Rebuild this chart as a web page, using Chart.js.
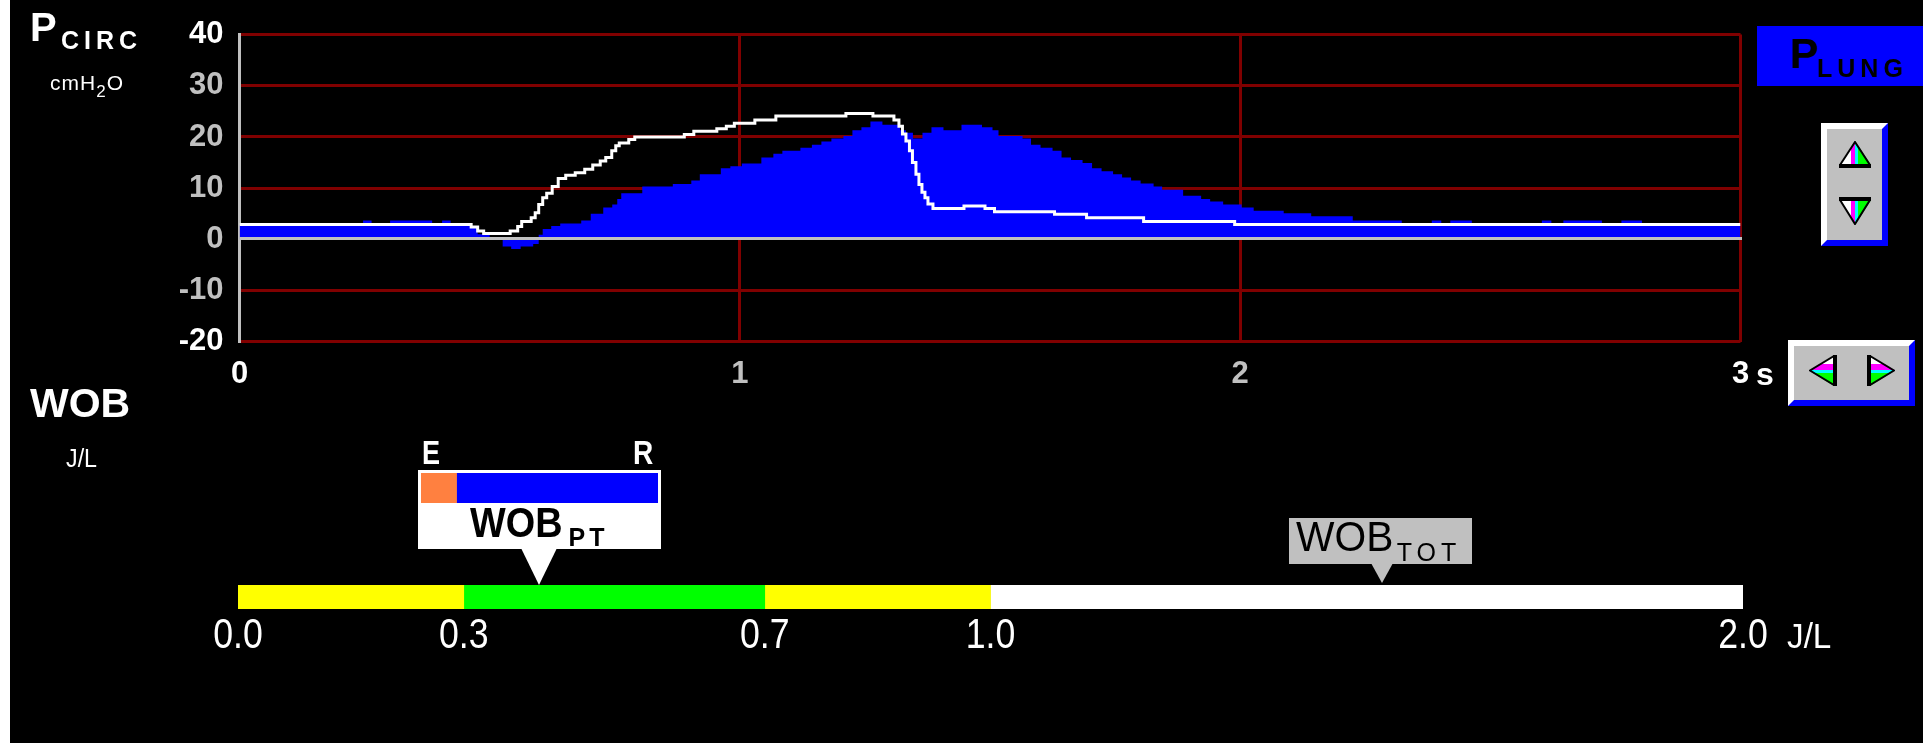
<!DOCTYPE html>
<html>
<head>
<meta charset="utf-8">
<title>P circ / P lung – WOB</title>
<script src="https://cdn.jsdelivr.net/npm/chart.js@4.4.1/dist/chart.umd.min.js"></script>
<style>
  html, body { margin: 0; padding: 0; background: #fff; width: 1923px; height: 743px; overflow: hidden; }
  #panel { position: absolute; left: 10px; top: 0; width: 1913px; height: 743px; background: #000; }
  canvas { position: absolute; }
  .t { position: absolute; white-space: nowrap; line-height: 1; font-family: "Liberation Sans", Arial, sans-serif; color: #fff; transform-origin: 0 0; }
  .b { font-weight: bold; }
  .btn { position: absolute; box-sizing: border-box; background: #c0c0c0;
         border-left: 6px solid #fff; border-top: 6px solid #fff;
         border-right: 6px solid #0000ff; border-bottom: 6px solid #0000ff; }
  .btn svg { position: absolute; }
  .box { position: absolute; box-sizing: border-box; }
  .tip { position: absolute; width: 0; height: 0; border-style: solid; border-color: transparent; }
</style>
</head>
<body>
<div id="panel"></div>
<canvas id="pressure" width="1923" height="743" style="left:0;top:0"></canvas>
<canvas id="gauge" width="1923" height="120" style="left:0;top:560px"></canvas>

<!-- pressure source selector -->
<div class="box" style="left:1757px;top:26px;width:166px;height:60px;background:#0000ff"></div>

<!-- scale buttons -->
<div class="btn" style="left:1821px;top:123px;width:67px;height:123px">
  <svg style="left:12px;top:12px" width="32" height="27" viewBox="0 0 32 27">
    <defs><clipPath id="cu"><polygon points="16,0 0,24 32,24"/></clipPath></defs>
    <g clip-path="url(#cu)">
      <rect x="0" y="0" width="12" height="24" fill="#fff"/>
      <rect x="12" y="0" width="4" height="24" fill="#ff00ff"/>
      <rect x="16" y="0" width="3" height="24" fill="#00ffff"/>
      <rect x="19" y="0" width="13" height="24" fill="#00ff00"/>
    </g>
    <polygon points="16,1 1,24 31,24" fill="none" stroke="#000" stroke-width="2"/>
    <rect x="0" y="23" width="32" height="4" fill="#000"/>
  </svg>
  <svg style="left:12px;top:68px" width="32" height="28" viewBox="0 0 32 28">
    <defs><clipPath id="cd"><polygon points="0,3 32,3 16,28"/></clipPath></defs>
    <g clip-path="url(#cd)">
      <rect x="0" y="0" width="12" height="28" fill="#fff"/>
      <rect x="12" y="0" width="4" height="28" fill="#ff00ff"/>
      <rect x="16" y="0" width="3" height="28" fill="#00ffff"/>
      <rect x="19" y="0" width="13" height="28" fill="#00ff00"/>
    </g>
    <polygon points="1,3 31,3 16,27" fill="none" stroke="#000" stroke-width="2"/>
    <rect x="0" y="0" width="32" height="4" fill="#000"/>
  </svg>
</div>
<div class="btn" style="left:1788px;top:340px;width:127px;height:66px">
  <svg style="left:15px;top:9px" width="28" height="31" viewBox="0 0 28 31">
    <defs><clipPath id="cl"><polygon points="25,0 25,31 0,15.5"/></clipPath></defs>
    <g clip-path="url(#cl)">
      <rect x="0" y="0" width="28" height="9" fill="#fff"/>
      <rect x="0" y="9" width="28" height="6" fill="#ff00ff"/>
      <rect x="0" y="15" width="28" height="3" fill="#00ffff"/>
      <rect x="0" y="18" width="28" height="13" fill="#00ff00"/>
    </g>
    <polygon points="25,1 25,30 1,15.5" fill="none" stroke="#000" stroke-width="2"/>
    <rect x="24" y="0" width="4" height="31" fill="#000"/>
  </svg>
  <svg style="left:73px;top:9px" width="28" height="31" viewBox="0 0 28 31">
    <defs><clipPath id="cr"><polygon points="3,0 3,31 28,15.5"/></clipPath></defs>
    <g clip-path="url(#cr)">
      <rect x="0" y="0" width="28" height="9" fill="#fff"/>
      <rect x="0" y="9" width="28" height="6" fill="#ff00ff"/>
      <rect x="0" y="15" width="28" height="3" fill="#00ffff"/>
      <rect x="0" y="18" width="28" height="13" fill="#00ff00"/>
    </g>
    <polygon points="3,1 3,30 27,15.5" fill="none" stroke="#000" stroke-width="2"/>
    <rect x="0" y="0" width="4" height="31" fill="#000"/>
  </svg>
</div>

<script>
// ---- pressure trace data (time in s, pressure in cmH2O) ----
const timeTicks = [0, 1, 2, 3];
const pressureTicks = [-20, -10, 0, 10, 20, 30, 40];

// lung pressure, step starts
const lungTime = [0, 0.247, 0.264, 0.301, 0.385, 0.405, 0.422, 0.463, 0.476, 0.500,
  0.526, 0.543, 0.562, 0.587, 0.598, 0.606, 0.623, 0.641, 0.683, 0.702,
  0.727, 0.745, 0.755, 0.763, 0.805, 0.866, 0.903, 0.920, 0.962, 0.981,
  1.004, 1.043, 1.067, 1.085, 1.121, 1.144, 1.163, 1.183, 1.207, 1.225,
  1.243, 1.261, 1.285, 1.320, 1.332, 1.346, 1.365, 1.383, 1.407, 1.443,
  1.484, 1.505, 1.517, 1.565, 1.582, 1.601, 1.625, 1.643, 1.662, 1.685,
  1.704, 1.723, 1.746, 1.764, 1.782, 1.801, 1.827, 1.844, 1.886, 1.922,
  1.940, 1.966, 2.003, 2.027, 2.087, 2.142, 2.225, 2.323, 2.383, 2.402,
  2.420, 2.463, 2.603, 2.622, 2.646, 2.723, 2.762, 2.803, 3.0];
const lungPressure = [2.8, 3.7, 2.8, 3.7, 2.8, 3.7, 2.8, 2.2, 1.0, 0,
  -1.4, -1.9, -1.4, -0.9, 0.9, 2.0, 2.6, 3.1, 3.7, 5.0,
  6.2, 6.8, 7.9, 9.0, 10.3, 10.8, 11.5, 12.7, 13.9, 14.3,
  14.8, 16.0, 16.7, 17.3, 17.9, 18.5, 19.1, 19.7, 20.2, 21.3,
  21.9, 23.0, 22.4, 21.3, 20.8, 19.7, 20.8, 21.9, 21.3, 22.4,
  21.9, 21.3, 20.2, 19.7, 18.5, 17.9, 17.3, 16.0, 15.5, 14.9,
  13.9, 13.3, 12.7, 12.1, 11.5, 10.9, 10.3, 9.7, 8.5, 7.9,
  7.4, 6.8, 6.2, 5.6, 5.1, 4.5, 3.7, 2.8, 3.7, 2.8,
  3.7, 2.8, 3.7, 2.8, 3.7, 2.8, 3.7, 2.8, 2.8];

// circuit pressure, step starts
const circTime = [0, 0.463, 0.476, 0.488, 0.541, 0.556, 0.564, 0.583, 0.591, 0.598,
  0.606, 0.614, 0.625, 0.637, 0.652, 0.671, 0.690, 0.706, 0.721, 0.732,
  0.744, 0.752, 0.759, 0.778, 0.790, 0.889, 0.908, 0.954, 0.973, 0.989,
  1.030, 1.072, 1.212, 1.266, 1.308, 1.318, 1.325, 1.332, 1.339, 1.345,
  1.352, 1.358, 1.364, 1.370, 1.376, 1.386, 1.448, 1.490, 1.509, 1.629,
  1.693, 1.807, 1.989, 3.0];
const circPressure = [2.9, 2.4, 1.65, 1.15, 1.65, 2.5, 3.5, 4.2, 5.2, 6.8,
  8.1, 9.0, 10.3, 11.9, 12.5, 13.0, 13.7, 14.5, 15.3, 16.0,
  17.3, 18.3, 18.8, 19.5, 20.0, 20.5, 21.1, 21.6, 22.1, 22.7,
  23.3, 24.1, 24.6, 24.1, 23.3, 22.1, 20.6, 19.2, 17.3, 15.0,
  12.7, 10.7, 9.2, 8.1, 6.9, 6.0, 6.5, 6.0, 5.4, 4.9,
  4.2, 3.5, 2.9, 2.9];

// ---- work of breathing (J/L) ----
const wobZoneLimits = [0.0, 0.3, 0.7, 1.0, 2.0];
const wobTicks = [0.0, 0.3, 0.7, 1.0, 2.0];
const wobPatient = 0.40;
const wobTotal = 1.52;
const wobElastic = 0.06;
const wobResistive = 0.34;

// ---- styling ----
const W = 1923, H = 743;
const plotArea = { left: 239.5, right: 1740.5, top: 27.3, bottom: 341.7 };
const xAxisHeight = 60;
const gridRed = '#800000';
const axisGray = '#c0c0c0';
const zoneColors = ['#ffff00', '#00ff00', '#ffff00', '#ffffff'];
const sansFamily = '"Liberation Sans", Arial, sans-serif';
const sansBold = { family: sansFamily, size: 31, weight: 'bold' };

// gray zero line drawn over the lung-pressure fill
const zeroLine = {
  id: 'zeroLine',
  afterDatasetsDraw(chart) {
    const { ctx, chartArea } = chart;
    const y = Math.round(chart.scales.y.getPixelForValue(0)) - 0.5;
    ctx.save();
    ctx.strokeStyle = axisGray;
    ctx.lineWidth = 3;
    ctx.beginPath();
    ctx.moveTo(chartArea.left, y);
    ctx.lineTo(chartArea.right + 1.5, y);
    ctx.stroke();
    ctx.restore();
  }
};

const toPoints = (xs, ys) => xs.map((x, i) => ({ x, y: ys[i] }));

new Chart(document.getElementById('pressure'), {
  type: 'line',
  data: {
    datasets: [
      {
        label: 'P circ',
        data: toPoints(circTime, circPressure),
        borderColor: '#ffffff',
        borderWidth: 3,
        stepped: true,
        pointRadius: 0,
        fill: false,
        borderJoinStyle: 'miter',
        order: 0
      },
      {
        label: 'P lung',
        data: toPoints(lungTime, lungPressure),
        borderColor: 'rgba(0,0,0,0)',
        borderWidth: 0,
        backgroundColor: '#0000ff',
        fill: 'origin',
        stepped: true,
        pointRadius: 0,
        order: 1
      }
    ]
  },
  options: {
    responsive: false,
    animation: false,
    devicePixelRatio: 1,
    events: [],
    layout: { padding: { left: 0, top: plotArea.top, right: W - plotArea.right, bottom: H - plotArea.bottom - xAxisHeight } },
    plugins: { legend: { display: false }, tooltip: { enabled: false } },
    scales: {
      x: {
        type: 'linear', min: 0, max: 3,
        afterBuildTicks: s => { s.ticks = timeTicks.map(v => ({ value: v })); },
        afterFit: s => { s.height = xAxisHeight; },
        grid: { color: c => (c.tick && c.tick.value === 0 ? 'rgba(0,0,0,0)' : gridRed), lineWidth: 3, drawTicks: false },
        border: { display: false },
        ticks: {
          padding: 14, autoSkip: false, maxRotation: 0, font: sansBold,
          color: c => (c.tick.value === 0 || c.tick.value === 3 ? '#ffffff' : axisGray),
          callback: v => String(v)
        }
      },
      y: {
        type: 'linear', min: -20, max: 40,
        afterBuildTicks: s => { s.ticks = pressureTicks.map(v => ({ value: v })); },
        afterFit: s => { s.width = plotArea.left; },
        grid: { color: c => (c.tick && c.tick.value === 0 ? 'rgba(0,0,0,0)' : gridRed), lineWidth: 3, drawTicks: false },
        border: { display: true, color: axisGray, width: 3 },
        ticks: {
          padding: 16, font: sansBold,
          color: c => (c.tick.value === 40 || c.tick.value === -20 ? '#ffffff' : axisGray),
          callback: v => String(v)
        }
      }
    }
  },
  plugins: [zeroLine]
});

// ---- WOB gauge ----
const gaugeTop = 560;
const gaugeLabelBase = 648;

// condensed tick labels, placed at the gauge scale's tick pixels
const condensedTicks = {
  id: 'condensedTicks',
  afterDraw(chart) {
    const s = chart.scales.x;
    const ctx = chart.ctx;
    ctx.save();
    ctx.fillStyle = '#ffffff';
    ctx.font = '42px ' + sansFamily;
    ctx.textAlign = 'center';
    ctx.textBaseline = 'alphabetic';
    s.ticks.forEach((t, i) => {
      const label = Number(t.value).toFixed(1);
      ctx.save();
      ctx.translate(s.getPixelForTick(i), gaugeLabelBase - gaugeTop);
      ctx.scale(0.85, 1);
      ctx.fillText(label, 0, 0);
      ctx.restore();
    });
    ctx.restore();
  }
};

const gauge = new Chart(document.getElementById('gauge'), {
  type: 'bar',
  data: {
    labels: ['WOB'],
    datasets: zoneColors.map((c, i) => ({
      data: [[wobZoneLimits[i], wobZoneLimits[i + 1]]],
      backgroundColor: c,
      borderWidth: 0,
      barPercentage: 1,
      categoryPercentage: 1,
      grouped: false
    }))
  },
  options: {
    indexAxis: 'y',
    responsive: false,
    animation: false,
    devicePixelRatio: 1,
    events: [],
    layout: { padding: { left: 238, right: W - 1743, top: 585 - gaugeTop, bottom: 0 } },
    plugins: { legend: { display: false }, tooltip: { enabled: false } },
    scales: {
      x: {
        type: 'linear', min: 0, max: 2,
        afterBuildTicks: s => { s.ticks = wobTicks.map(v => ({ value: v })); },
        afterFit: s => { s.height = 120 - (609 - gaugeTop); },
        grid: { display: false, drawTicks: false },
        border: { display: false },
        ticks: { display: false, autoSkip: false, maxRotation: 0 }
      },
      y: { type: 'category', display: false }
    }
  },
  plugins: [condensedTicks]
});

// ---- text and markers ----
function text(str, x, base, size, opts = {}) {
  const d = document.createElement('div');
  d.className = 't' + (opts.bold ? ' b' : '');
  d.style.left = x + 'px';
  d.style.top = (base - 0.8465 * size) + 'px';
  d.style.fontSize = size + 'px';
  if (opts.color) d.style.color = opts.color;
  if (opts.spacing) d.style.letterSpacing = opts.spacing + 'px';
  if (opts.sx) d.style.transform = 'scaleX(' + opts.sx + ')';
  d.innerHTML = str;
  document.body.appendChild(d);
  return d;
}
function box(x, y, w, h, bg) {
  const d = document.createElement('div');
  d.className = 'box';
  Object.assign(d.style, { left: x + 'px', top: y + 'px', width: w + 'px', height: h + 'px', background: bg });
  document.body.appendChild(d);
  return d;
}
function tip(apex, top, half, height, color) {
  const d = document.createElement('div');
  d.className = 'tip';
  Object.assign(d.style, {
    left: (apex - half) + 'px', top: top + 'px',
    borderWidth: height + 'px ' + half + 'px 0 ' + half + 'px',
    borderTopColor: color
  });
  document.body.appendChild(d);
}

text('P', 30, 41, 40, { bold: true });
text('CIRC', 61, 49, 25, { bold: true, spacing: 5 });
text('cmH<span style="font-size:17px;vertical-align:-7px">2</span>O', 50, 90, 21, { spacing: 1 });
text('P', 1790, 68, 43, { bold: true, color: '#000' });
text('LUNG', 1817, 77, 25, { bold: true, spacing: 5, color: '#000' });
text('s', 1756, 385, 32, { bold: true });
text('WOB', 30, 418, 41, { bold: true });
text('J/L', 66, 467, 25, { sx: 0.93 });
text('J/L', 1787, 648, 35, { sx: 0.95 });

// patient WOB marker with elastic / resistive split
const ptX = gauge.scales.x.getPixelForValue(wobPatient);
const ptLeft = ptX - 121.5;
box(ptLeft, 470, 243, 79, '#ffffff');
tip(ptX, 548, 18, 37, '#ffffff');
text('E', ptLeft + 4, 464, 33, { bold: true, sx: 0.82 });
text('R', ptLeft + 215, 464, 33, { bold: true, sx: 0.85 });
text('WOB', ptLeft + 52, 537, 43, { bold: true, sx: 0.88, color: '#000' });
text('PT', ptLeft + 151, 546, 25, { bold: true, spacing: 4, color: '#000' });

const split = document.createElement('canvas');
split.width = 237; split.height = 30;
split.style.left = (ptLeft + 3) + 'px';
split.style.top = '473px';
document.body.appendChild(split);
new Chart(split, {
  type: 'bar',
  data: {
    labels: [''],
    datasets: [
      { label: 'E', data: [wobElastic], backgroundColor: '#ff8040', borderWidth: 0, barPercentage: 1, categoryPercentage: 1 },
      { label: 'R', data: [wobResistive], backgroundColor: '#0000ff', borderWidth: 0, barPercentage: 1, categoryPercentage: 1 }
    ]
  },
  options: {
    indexAxis: 'y',
    responsive: false,
    animation: false,
    devicePixelRatio: 1,
    events: [],
    layout: { padding: 0 },
    plugins: { legend: { display: false }, tooltip: { enabled: false } },
    scales: {
      x: { stacked: true, min: 0, max: wobElastic + wobResistive, display: false },
      y: { stacked: true, display: false }
    }
  }
});

// total WOB marker
const totX = gauge.scales.x.getPixelForValue(wobTotal);
const totLeft = totX - 93;
box(totLeft, 518, 183, 46, '#c0c0c0');
tip(totX, 563, 11, 20, '#c0c0c0');
text('WOB', totLeft + 7, 552, 42, { sx: 0.97, color: '#000' });
text('TOT', totLeft + 108, 561, 25, { spacing: 5, color: '#000' });
</script>
</body>
</html>
